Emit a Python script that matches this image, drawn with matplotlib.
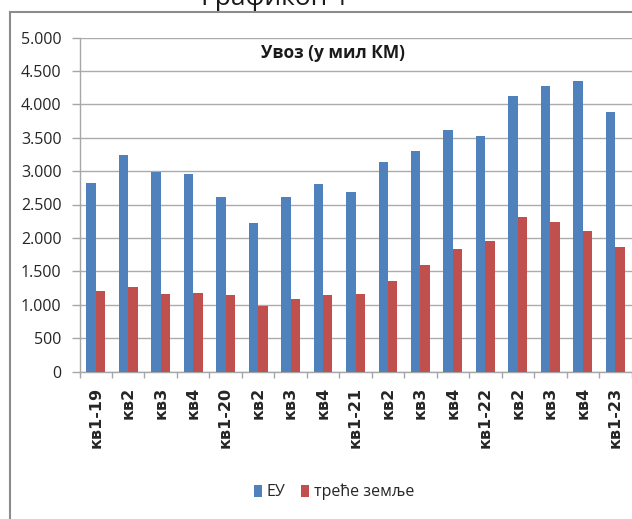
import matplotlib
matplotlib.use("Agg")
import matplotlib.pyplot as plt
from matplotlib.lines import Line2D
from matplotlib.ticker import FuncFormatter
import numpy as np

# === Data (мил КМ) ===
quarters = ["кв1-19", "кв2", "кв3", "кв4",
            "кв1-20", "кв2", "кв3", "кв4",
            "кв1-21", "кв2", "кв3", "кв4",
            "кв1-22", "кв2", "кв3", "кв4",
            "кв1-23"]
eu = [2820, 3240, 2990, 2960, 2610, 2230, 2610, 2800,
      2680, 3130, 3300, 3620, 3530, 4130, 4280, 4350, 3880]
third = [1210, 1260, 1160, 1170, 1140, 980, 1080, 1140,
         1160, 1360, 1600, 1840, 1950, 2310, 2240, 2100, 1860]

BLUE = "#4F81BD"
RED = "#C0504D"
FONT = ["Open Sans", "DejaVu Sans"]

fig = plt.figure(figsize=(6.32, 5.19), dpi=100)
ax = fig.add_axes([79.5 / 632, 1 - 371.5 / 519, 552 / 632, 334 / 519])

x = np.arange(len(quarters))
w = 0.29
ax.bar(x - w / 2, eu, width=w, color=BLUE, label="ЕУ", zorder=3)
ax.bar(x + w / 2, third, width=w, color=RED, label="треће земље", zorder=3)

ax.set_xlim(-0.5, len(quarters) - 0.5)
ax.set_ylim(0, 5000)
ax.set_yticks(np.arange(0, 5001, 500))
ax.yaxis.set_major_formatter(FuncFormatter(lambda v, p: f"{int(v):,}".replace(",", ".")))
ax.grid(axis="y", color="#ababab", linewidth=1.0, zorder=0)

for s in ["top", "right"]:
    ax.spines[s].set_visible(False)
for s in ["left", "bottom"]:
    ax.spines[s].set_color("#a6a6a6")
    ax.spines[s].set_linewidth(1.0)

ax.tick_params(axis="y", length=6, width=1, color="#a6a6a6", pad=7,
               labelsize=11.5, labelcolor="#262626")
for lbl in ax.get_yticklabels():
    lbl.set_family(FONT)

# category ticks on boundaries, labels on centers
ax.set_xticks(np.arange(-0.5, len(quarters), 1.0))
ax.set_xticklabels([])
ax.tick_params(axis="x", length=4, width=1, color="#a6a6a6")
ax.set_xticks(x, minor=True)
ax.set_xticklabels(quarters, minor=True, rotation=90, fontsize=11.5,
                   fontweight="bold", family=["DejaVu Sans"], color="#262626")
ax.tick_params(axis="x", which="minor", length=0, pad=11)

ax.text(0.46, 0.955, "Увоз (у мил КМ)", transform=ax.transAxes, ha="center",
        va="center", fontsize=12.5, fontweight="bold", family=FONT, color="#1a1a1a")

fig.text(275 / 632, 1 - 5 / 519, "Графикон 1", ha="center", va="baseline",
         fontsize=19, family=FONT, color="#1a1a1a")

# outer frame (cut off at right and bottom)
fig.add_artist(Line2D([10 / 632, 10 / 632], [0, 1 - 12 / 519], transform=fig.transFigure,
                      color="#8c8c8c", linewidth=1.5))
fig.add_artist(Line2D([10 / 632, 1], [1 - 12 / 519, 1 - 12 / 519], transform=fig.transFigure,
                      color="#8c8c8c", linewidth=1.5))

leg = fig.legend(loc="center", bbox_to_anchor=(334 / 632, 1 - 492 / 519), ncol=2,
                 frameon=False, handlelength=0.5, handleheight=0.8, handletextpad=0.3,
                 columnspacing=1.0, prop={"family": FONT, "size": 11.5})
for t in leg.get_texts():
    t.set_color("#262626")

fig.savefig("out.png", dpi=100)
